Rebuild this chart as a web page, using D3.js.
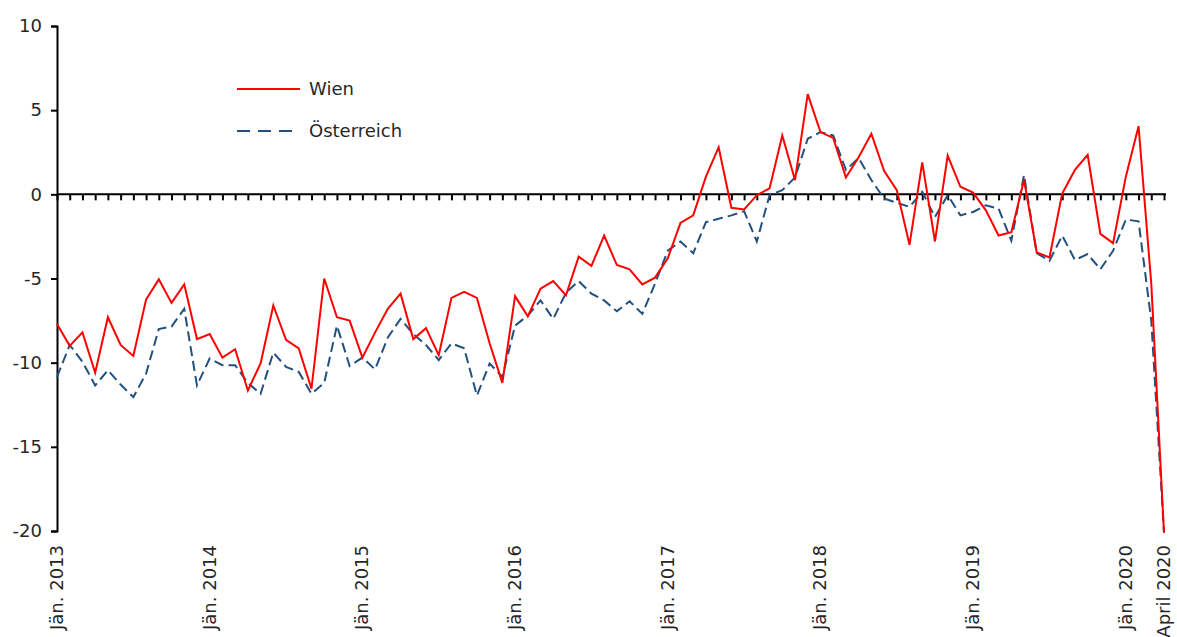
<!DOCTYPE html>
<html>
<head>
<meta charset="utf-8">
<script src="https://cdn.jsdelivr.net/npm/d3@7"></script>
<style>
  html, body { margin: 0; padding: 0; background: #fff; }
  svg { display: block; font-family: "DejaVu Sans", sans-serif; }
</style>
</head>
<body>
<script>
(function () {
  'use strict';

  // monthly values, Jän. 2013 .. April 2020
  var wien = [
    -7.7, -9.0, -8.2, -10.6, -7.3, -8.95, -9.6, -6.25, -5.05, -6.45, -5.35, -8.6,
    -8.3, -9.7, -9.2, -11.65, -10.05, -6.6, -8.65, -9.15, -11.55, -5.0, -7.3, -7.5,
    -9.7, -8.2, -6.8, -5.9, -8.6, -7.95, -9.55, -6.15, -5.8, -6.15, -8.85, -11.2,
    -6.05, -7.25, -5.6, -5.15, -6.0, -3.7, -4.25, -2.45, -4.2, -4.45, -5.35, -4.95,
    -3.8, -1.7, -1.25, 1.05, 2.8, -0.8, -0.9, -0.05, 0.35, 3.5, 0.85, 5.95,
    3.7, 3.35, 1.0, 2.2, 3.6, 1.4, 0.25, -3.0, 1.9, -2.8, 2.3, 0.45,
    0.1, -0.95, -2.45, -2.25, 0.85, -3.45, -3.75, 0.05, 1.45, 2.35, -2.35, -2.9,
    1.05, 4.05, -5.3, -20.1
  ];

  var oesterreich = [
    -10.85, -8.95, -9.95, -11.35, -10.45, -11.3, -12.05, -10.65, -8.0, -7.85, -6.8, -11.35,
    -9.75, -10.15, -10.15, -11.2, -11.85, -9.4, -10.25, -10.55, -11.85, -11.2, -7.8, -10.2,
    -9.7, -10.4, -8.5, -7.4, -8.3, -8.95, -9.85, -8.85, -9.15, -11.95, -10.05, -10.85,
    -7.8, -7.2, -6.3, -7.4, -5.85, -5.15, -5.9, -6.3, -6.95, -6.35, -7.1, -5.3,
    -3.35, -2.8, -3.5, -1.65, -1.45, -1.25, -1.0, -2.8, -0.05, 0.25, 1.0, 3.3,
    3.7, 3.5, 1.45, 2.15, 0.85, -0.25, -0.5, -0.75, 0.15, -1.35, -0.05, -1.25,
    -1.05, -0.65, -0.85, -2.75, 1.15, -3.5, -3.95, -2.45, -3.9, -3.55, -4.45, -3.35,
    -1.5, -1.6, -7.5, -20.1
  ];

  var startYear = 2013;
  var yTicks = [10, 5, 0, -5, -10, -15, -20];
  var xLabelIdx = [0, 12, 24, 36, 48, 60, 72, 84, 87];
  var xLabels = ['Jän. 2013', 'Jän. 2014', 'Jän. 2015', 'Jän. 2016', 'Jän. 2017',
    'Jän. 2018', 'Jän. 2019', 'Jän. 2020', 'April 2020'];
  var seriesNames = ['Wien', 'Österreich'];

  var width = 1177,
    height = 637,
    red = '#ff0000',
    blue = '#22507f',
    textColor = '#262626';

  // month categories built from the start year, one per value
  var months = wien.map(function (d, i) {
    return (startYear + Math.floor(i / 12)) + '-' + ('0' + (i % 12 + 1)).slice(-2);
  });

  var svg = d3.select('body')
    .append('svg')
    .attr('width', width)
    .attr('height', height);

  var x = d3.scalePoint()
    .domain(months)
    .range([57, 1164]);

  var y = d3.scaleLinear()
    .domain([-20, 10])
    .range([531, 26]);

  // y axis
  var yAxis = svg.append('g')
    .attr('transform', 'translate(57,0)')
    .call(d3.axisLeft(y).tickValues(yTicks).tickSize(6).tickPadding(9)
      .tickFormat(function (d) { return d; }));
  yAxis.select('.domain').attr('stroke', '#000').attr('stroke-width', 2);
  yAxis.selectAll('.tick line').attr('stroke', '#000').attr('stroke-width', 2);
  yAxis.selectAll('.tick text')
    .attr('fill', textColor)
    .style('font-size', '18px')
    .style('font-family', '"DejaVu Sans", sans-serif');

  // x axis on the zero line, tick at every month
  var xAxis = svg.append('g')
    .attr('transform', 'translate(0,' + y(0) + ')')
    .call(d3.axisBottom(x).tickSize(6).tickSizeOuter(0).tickFormat(''));
  xAxis.select('.domain')
    .attr('d', 'M57,0H1166')
    .attr('stroke', '#000')
    .attr('stroke-width', 2);
  xAxis.selectAll('.tick line').attr('stroke', '#000').attr('stroke-width', 2);

  // month labels at the bottom
  svg.append('g')
    .selectAll('text')
    .data(xLabelIdx)
    .enter()
    .append('text')
    .attr('transform', function (d) {
      return 'translate(' + (x(months[d]) + 6) + ',545) rotate(-90)';
    })
    .attr('text-anchor', 'end')
    .attr('fill', textColor)
    .style('font-size', '18px')
    .text(function (d, i) { return xLabels[i]; });

  var line = d3.line()
    .x(function (d, i) { return x(months[i]); })
    .y(function (d) { return y(d); });

  svg.append('path')
    .datum(oesterreich)
    .attr('fill', 'none')
    .attr('stroke', blue)
    .attr('stroke-width', 2)
    .attr('stroke-dasharray', '10,5')
    .attr('d', line);

  svg.append('path')
    .datum(wien)
    .attr('fill', 'none')
    .attr('stroke', red)
    .attr('stroke-width', 2)
    .attr('d', line);

  // legend
  var legend = svg.append('g');
  var legendY = [89, 131];
  legend.selectAll('line')
    .data(seriesNames)
    .enter()
    .append('line')
    .attr('x1', 237)
    .attr('x2', function (d, i) { return i === 0 ? 300 : 294; })
    .attr('y1', function (d, i) { return legendY[i]; })
    .attr('y2', function (d, i) { return legendY[i]; })
    .attr('stroke', function (d, i) { return i === 0 ? red : blue; })
    .attr('stroke-width', 2)
    .attr('stroke-dasharray', function (d, i) { return i === 0 ? null : '13,8'; });

  legend.selectAll('text')
    .data(seriesNames)
    .enter()
    .append('text')
    .attr('x', 309)
    .attr('y', function (d, i) { return legendY[i]; })
    .attr('dy', '0.35em')
    .attr('fill', textColor)
    .style('font-size', '18px')
    .text(function (d) { return d; });
}());
</script>
</body>
</html>
